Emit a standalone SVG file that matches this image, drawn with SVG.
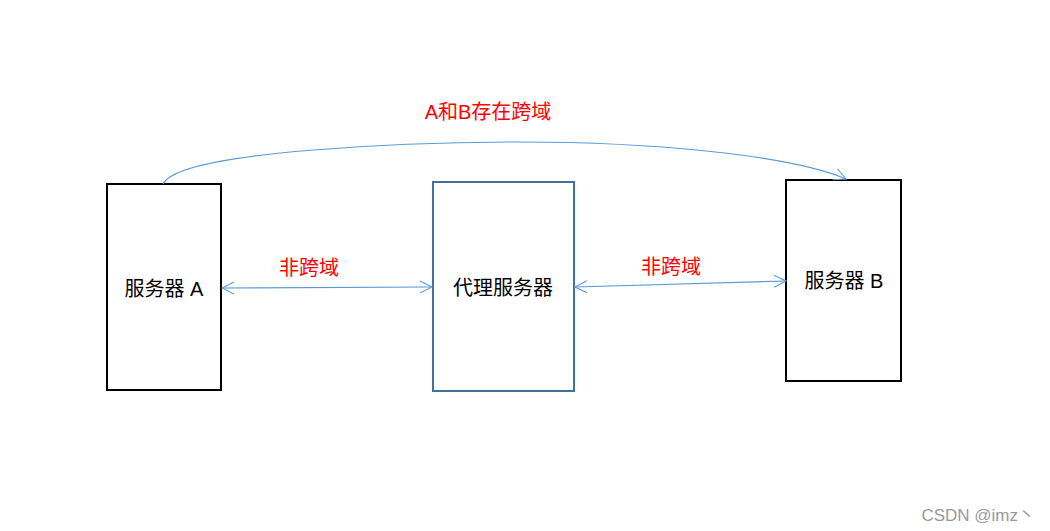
<svg xmlns="http://www.w3.org/2000/svg" width="1050" height="531" viewBox="0 0 1050 531">
<defs>
<marker id="arr" viewBox="0 0 14 14" refX="13" refY="7" markerWidth="14" markerHeight="14" markerUnits="userSpaceOnUse" orient="auto-start-reverse">
<path d="M1,1 L13,7 L1,13" fill="none" stroke="#5B9BD5" stroke-width="1.1"/>
</marker>
<style>
.box{fill:#fff;stroke-width:2}
.blk{stroke:#000}
.blu{stroke:#41719C}
.lbl{font-family:"Liberation Sans","Noto Sans CJK SC",sans-serif;font-size:20px;fill:#000;text-anchor:middle}
.red{font-family:"Liberation Sans","Noto Sans CJK SC",sans-serif;font-size:20px;fill:#FF0000;text-anchor:middle}
.con{fill:none;stroke:#5B9BD5;stroke-width:1.2}
</style>
</defs>
<rect width="1050" height="531" fill="#fff"/>
<g id="serverA">
<rect class="box blk" x="107" y="184" width="114" height="206"/>
<text class="lbl" x="164" y="296">服务器 A</text>
</g>
<g id="proxy">
<rect class="box blu" x="433" y="182" width="141" height="209"/>
<text class="lbl" x="503" y="295">代理服务器</text>
</g>
<g id="serverB">
<rect class="box blk" x="786" y="180" width="115" height="201"/>
<text class="lbl" x="844" y="288">服务器 B</text>
</g>
<g id="connectors">
<path class="con" d="M163,184 C180,150 420,142 520,142 C650,142 790,155 846,179" marker-end="url(#arr)"/>
<line class="con" x1="222" y1="288" x2="432" y2="287" marker-start="url(#arr)" marker-end="url(#arr)"/>
<line class="con" x1="575" y1="287" x2="786" y2="281" marker-start="url(#arr)" marker-end="url(#arr)"/>
</g>
<g id="labels">
<text class="red" x="488" y="119">A和B存在跨域</text>
<text class="red" x="309" y="275">非跨域</text>
<text class="red" x="671" y="274">非跨域</text>
</g>
<text x="1035" y="521" style="font-family:'Liberation Sans','Noto Sans CJK SC',sans-serif;font-size:17px;fill:#999;text-anchor:end">CSDN @imz丶</text>
</svg>
